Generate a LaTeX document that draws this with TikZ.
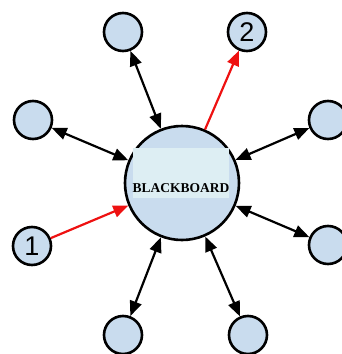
\documentclass[tikz,border=0pt]{standalone}
\usepackage{fontspec}
\setmainfont{Liberation Serif}
\newfontfamily\numfont{Liberation Sans}
\usetikzlibrary{arrows.meta}
\definecolor{nodefill}{HTML}{C9DCEE}
\definecolor{labelfill}{HTML}{DDEEF3}
\definecolor{redarrow}{HTML}{EE1111}
\begin{document}
\begin{tikzpicture}[x=1pt,y=-1pt,
  agent/.style={circle,draw=black,line width=2.6pt,fill=nodefill,minimum size=38pt,inner sep=0pt,font=\numfont\fontsize{27}{27}\selectfont},
  hub/.style={circle,draw=black,line width=2.6pt,fill=nodefill,minimum size=114pt,inner sep=0pt},
  tip/.style={Triangle[length=15pt,width=12pt]},
  link/.style={line width=2.2pt,{Triangle[length=15pt,width=12pt]}-{Triangle[length=15pt,width=12pt]}},
  redlink/.style={line width=2.2pt,draw=redarrow,-{Triangle[length=15pt,width=12pt]}}]
\useasboundingbox (0,0) rectangle (342,354);
\node[hub] (bb) at (182,183) {};
\node[fill=labelfill,minimum width=96pt,minimum height=50pt,inner sep=0pt] (lbl) at (181,173) {};
\node[font=\bfseries\fontsize{13.5}{13.5}\selectfont,inner sep=0pt] (txt) at (181,188) {BLACKBOARD};
\node[agent] (tl) at (123,32) {};
\node[agent] (two) at (247,32) {2};
\node[agent] (l) at (33,120) {};
\node[agent] (r) at (328,120) {};
\node[agent] (one) at (32,246) {1};
\node[agent] (rb) at (328,245) {};
\node[agent] (bl) at (123,335) {};
\node[agent] (br) at (248,335) {};
\draw[link] (tl) -- (bb);
\draw[link] (l) -- (bb);
\draw[link] (r) -- (bb);
\draw[link] (rb) -- (bb);
\draw[link] (bl) -- (bb);
\draw[link] (br) -- (bb);
\draw[redlink] (one) -- (bb);
\draw[redlink] (bb) -- (two);
\end{tikzpicture}
\end{document}
